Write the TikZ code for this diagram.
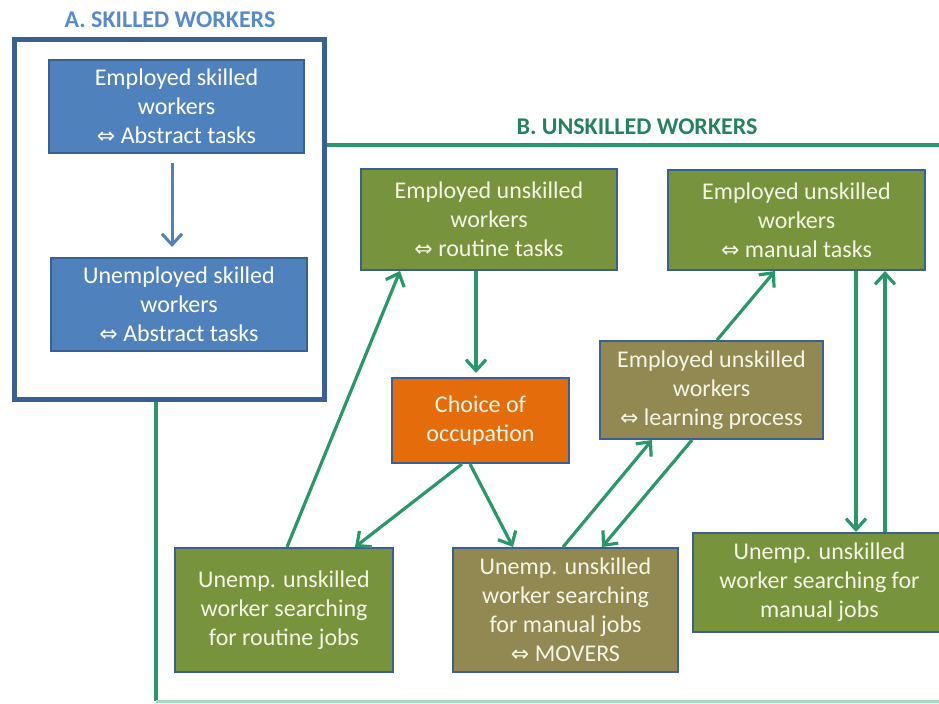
\documentclass[tikz,border=0pt]{standalone}
\usepackage{fontspec}
\setmainfont{Carlito}
\newfontfamily\symfont{DejaVu Sans}
\usetikzlibrary{arrows.meta}
\definecolor{skillblue}{RGB}{79,129,189}
\definecolor{frameblue}{RGB}{58,95,145}
\definecolor{titleblue}{RGB}{86,138,204}
\definecolor{linegreen}{RGB}{40,152,106}
\definecolor{titlegreen}{RGB}{36,130,94}
\definecolor{olivebox}{RGB}{119,147,60}
\definecolor{khakibox}{RGB}{146,136,82}
\definecolor{choiceorange}{RGB}{228,108,10}
\definecolor{boxtext}{RGB}{246,246,230}
\newcommand{\eqv}{{\symfont\fontsize{11}{11}\selectfont ⇔}}
\begin{document}
\begin{tikzpicture}[x=0.5pt,y=-0.5pt,
  box/.style={draw=frameblue, line width=1pt, text=boxtext, align=center,
    font=\fontsize{12}{14.5}\selectfont, inner sep=0pt},
  bluebox/.style={box, fill=skillblue, text=white},
  olive/.style={box, fill=olivebox},
  khaki/.style={box, fill=khakibox},
  title/.style={font=\fontsize{12}{14}\selectfont\bfseries},
  barrow/.style={draw=skillblue, line width=1.5pt, -{Straight Barb[length=5.5pt,width=10pt]}},
  garrow/.style={draw=linegreen, line width=1.6pt, -{Straight Barb[length=5.5pt,width=10pt]}}]
\useasboundingbox (0,0) rectangle (939,703);

% frame of the unskilled block (runs past the right edge)
\begin{scope}
\clip (0,0) rectangle (939,703);
\draw[linegreen, line width=2pt] (990,145) -- (156,145) -- (156,701);
\draw[linegreen!40, line width=1.5pt] (156,701) -- (990,701);
\node[olive, minimum width=126.5pt, minimum height=49.5pt] (b6) at (819.5,582.5)
  {Unemp. unskilled\\worker searching for\\manual jobs};
\end{scope}
\node[title, text=titlegreen] (tb) at (637,127) {B. UNSKILLED WORKERS};

% skilled block
\node[title, text=titleblue] (ta) at (170,20) {A. SKILLED WORKERS};
\draw[frameblue, line width=2.5pt, fill=white] (14.5,39.5) rectangle (324.5,399.5);
\node[bluebox, minimum width=127.5pt, minimum height=46.5pt] (a1) at (176.5,106.5)
  {Employed skilled\\workers\\\eqv{} Abstract tasks};
\node[bluebox, minimum width=128pt, minimum height=46.5pt] (a2) at (179,304.5)
  {Unemployed skilled\\workers\\\eqv{} Abstract tasks};
\draw[barrow] ([xshift=-2.25pt,yshift=-4.5pt]a1.south) -- ([xshift=-3.5pt,yshift=5pt]a2.north);

% unskilled block
\node[olive, minimum width=128pt, minimum height=50.5pt] (b1) at (489,219.5)
  {Employed unskilled\\workers\\\eqv{} routine tasks};
\node[olive, minimum width=128.5pt, minimum height=50pt] (b2) at (796.5,220)
  {Employed unskilled\\workers\\\eqv{} manual tasks};
\node[box, fill=choiceorange, minimum width=88.5pt, minimum height=42.5pt] (ch) at (480.5,420.5)
  {Choice of\\occupation};
\node[khaki, minimum width=111.5pt, minimum height=49pt] (b3) at (711.5,390)
  {Employed unskilled\\workers\\\eqv{} learning process};
\node[olive, minimum width=109pt, minimum height=62pt] (b4) at (284,610)
  {Unemp. unskilled\\worker searching\\for routine jobs};
\node[khaki, minimum width=112.5pt, minimum height=62pt] (b5) at (565.5,610)
  {Unemp. unskilled\\worker searching\\for manual jobs\\\eqv{} MOVERS};

\draw[garrow] ([xshift=-6.5pt]b1.south) -- ([xshift=-2.25pt,yshift=2pt]ch.north);
\draw[garrow] ([xshift=-9.25pt]ch.south) -- ([xshift=35.5pt]b4.north);
\draw[garrow] ([xshift=-5.25pt]ch.south) -- ([xshift=-26.25pt]b5.north);
\draw[garrow] ([xshift=1.5pt]b4.north) -- ([xshift=-44.5pt]b1.south);
\draw[garrow] ([xshift=-1.25pt]b5.north) -- ([xshift=-29.75pt]b3.south);
\draw[garrow] ([xshift=-9.75pt]b3.south) -- ([xshift=18.25pt]b5.north);
\draw[garrow] ([xshift=2.75pt]b3.north) -- ([xshift=-10.75pt]b2.south);
\draw[garrow] ([xshift=29.75pt]b2.south) -- ([xshift=18.25pt]b6.north);
\draw[garrow] ([xshift=32.75pt]b6.north) -- ([xshift=44.25pt]b2.south);
\end{tikzpicture}
\end{document}
